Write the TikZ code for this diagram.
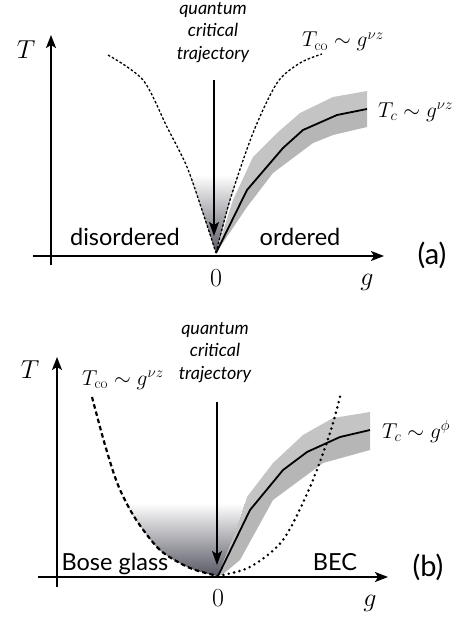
\documentclass[tikz,border=0pt]{standalone}
\usepackage{fix-cm}
\usepackage{fontspec}
\newfontfamily\lato{Lato}
\usetikzlibrary{arrows.meta}
\definecolor{bandup}{RGB}{196,196,196}
\definecolor{banddn}{RGB}{182,182,182}
\definecolor{shadedark}{RGB}{88,88,100}
\tikzset{
  axis/.style={line width=1.8pt,-{Stealth[length=13pt,width=10pt,inset=3pt]}},
  qarrow/.style={line width=1.6pt,-{Stealth[length=14pt,width=10pt,inset=3pt]}},
  tcline/.style={line width=1.8pt},
  finedash/.style={line width=1.3pt,dash pattern=on 2.5pt off 2pt},
  bolddash/.style={line width=2.2pt,dash pattern=on 4.5pt off 3pt},
  dotline/.style={line width=2.8pt,line cap=round,dash pattern=on 0pt off 5.5pt},
  axlabel/.style={inner sep=0pt,font=\fontsize{26}{30}\selectfont},
  curvelabel/.style={inner sep=0pt,anchor=base west,font=\fontsize{21.5}{25}\selectfont},
  phase/.style={inner sep=0pt,anchor=base,font=\lato\fontsize{23.5}{27}\selectfont},
  panel/.style={inner sep=0pt,font=\lato\fontsize{29}{33}\selectfont},
  qct/.style={inner sep=0pt,anchor=north,align=center,font=\lato\itshape\fontsize{18}{22.5}\selectfont},
  band/.style={fill=bandup,draw=none},
  banddark/.style={fill=banddn,draw=none},
}
\begin{document}
\begin{tikzpicture}[x=1pt,y=-1pt]
\useasboundingbox (0,0) rectangle (466,618);
% ================= panel (a) =================
\fill[top color=white,bottom color=shadedark,draw=none]
  (190,175) -- (203,213) -- (216,253) -- (230,200) -- (238,175) -- cycle;
\fill[band] (216,253) -- (233,200) -- (253,157) -- (277,133) -- (300,113) -- (333,97) -- (367,91)
  -- (367,109) -- (337,115) -- (303,130) -- (283,148) -- (247,190) -- cycle;
\fill[banddark] (216,253) -- (247,190) -- (283,148) -- (303,130) -- (337,115) -- (367,109)
  -- (367,127) -- (333,135) -- (313,143) -- (273,173) -- (247,207) -- cycle;
\coordinate (a0) at (216,253);
\coordinate (ayb) at (51,265);
\coordinate (ayt) at (51,35);
\coordinate (axl) at (33,256);
\coordinate (axr) at (384,256);
\coordinate (aqs) at (214,80);
\coordinate (aqe) at (214,236);
\draw[tcline] (a0) -- (247,190) -- (283,148) -- (303,130) -- (337,115) -- (367,109);
\draw[finedash] plot[smooth] coordinates {(108,55) (143,80) (167,127) (187,167) (203,213) (a0)};
\draw[finedash] plot[smooth] coordinates {(a0) (230,200) (253,133) (277,83) (300,63) (322,54)};
\draw[qarrow] (aqs) -- (aqe);
\draw[axis] (ayb) -- (ayt);
\draw[axis] (axl) -- (axr);
\node[axlabel] (aT) at (26,50) {$T$};
\node[axlabel] (azero) at (216,278) {$0$};
\node[axlabel] (ag) at (367,282) {$g$};
\node[panel] (apanel) at (432,255) {(a)};
\node[phase] (adis) at (125,245) {disordered};
\node[phase] (aord) at (300,245) {ordered};
\node[qct] (aqct) at (213,2) {quantum\\critical\\trajectory};
\node[curvelabel] (atco) at (302,47) {$T_{\rm co}\sim g^{\nu z}$};
\node[curvelabel] (atc) at (378,117) {$T_c\sim g^{\nu z}$};
% ================= panel (b) =================
\fill[top color=white,bottom color=shadedark,draw=none]
  plot[smooth] coordinates {(127,503) (135,518) (160,550) (190,568) (218,576)}
  -- (240,520) -- (245,503) -- cycle;
\fill[band] (218,575) -- (240,520) -- (247,497) -- (273,463) -- (303,435) -- (333,418) -- (370,412)
  -- (370,430) -- (340,437) -- (307,452) -- (283,470) -- (250,510) -- cycle;
\fill[banddark] (218,575) -- (250,510) -- (283,470) -- (307,452) -- (340,437) -- (370,430)
  -- (370,450) -- (323,463) -- (273,500) -- (240,560) -- (222,575) -- cycle;
\coordinate (b0) at (218,576);
\coordinate (byb) at (57,587);
\coordinate (byt) at (57,357);
\coordinate (bxl) at (38,577);
\coordinate (bxr) at (388,577);
\coordinate (bqs) at (217,402);
\coordinate (bqe) at (217,565);
\draw[tcline] (b0) -- (250,510) -- (283,470) -- (307,452) -- (340,437) -- (370,430);
\draw[bolddash] plot[smooth] coordinates {(92,397) (105,445) (118,485) (135,518) (160,550) (190,568) (b0)};
\draw[dotline] plot[smooth] coordinates {(b0) (250,567) (283,540) (310,487) (330,433) (341,393)};
\draw[qarrow] (bqs) -- (bqe);
\draw[axis] (byb) -- (byt);
\draw[axis] (bxl) -- (bxr);
\node[axlabel] (bT) at (30,370) {$T$};
\node[axlabel] (bzero) at (218,598) {$0$};
\node[axlabel] (bg) at (370,603) {$g$};
\node[panel] (bpanel) at (428,567) {(b)};
\node[phase] (bbose) at (115,570) {Bose glass};
\node[phase] (bbec) at (335,570) {BEC};
\node[qct] (bqct) at (215,322) {quantum\\critical\\trajectory};
\node[curvelabel] (btco) at (82,385) {$T_{\rm co}\sim g^{\nu z}$};
\node[curvelabel] (btc) at (382,438) {$T_c\sim g^{\phi}$};
\end{tikzpicture}
\end{document}
